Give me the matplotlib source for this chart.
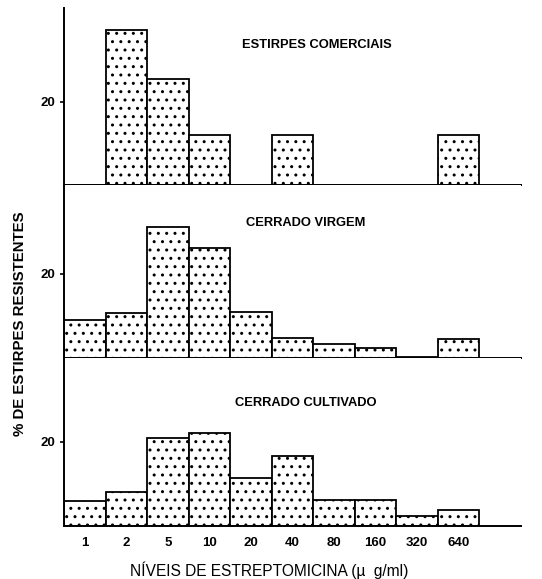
import numpy as np
import matplotlib
matplotlib.use("Agg")
import matplotlib.pyplot as plt

# streptomycin levels (ug/ml) - one bin per level
levels = ["1", "2", "5", "10", "20", "40", "80", "160", "320", "640"]

# % of resistant strains per level
comerciais = [0, 37.2, 25.5, 12.0, 0, 12.0, 0, 0, 0, 12.0]
cerrado_virgem = [8.9, 10.7, 31.0, 26.0, 10.9, 4.8, 3.2, 2.4, 0.3, 4.6]
cerrado_cultivado = [6.0, 8.0, 21.0, 22.2, 11.5, 16.7, 6.1, 6.1, 2.5, 3.7]

panel_titles = ["ESTIRPES COMERCIAIS", "CERRADO VIRGEM", "CERRADO CULTIVADO"]
panel_data = [comerciais, cerrado_virgem, cerrado_cultivado]

plt.rcParams["font.family"] = ["Liberation Sans", "DejaVu Sans"]
plt.rcParams["hatch.linewidth"] = 1.0
plt.rcParams["hatch.color"] = "black"

W, H = 542, 579
fig = plt.figure(figsize=(W / 100, H / 100), dpi=100)

# panel boxes in pixel rows (top, bottom), y-limits and title positions
rows = [(8, 185), (185, 358), (358, 526)]
ytops = [42.6, 41.0, 40.0]
title_pos = [(317, 45), (306, 223), (306, 403)]
left_px, width_px = 64, 456.5

axes = []
for (top, bot), ymax, vals, title, (tx, ty) in zip(rows, ytops, panel_data,
                                                   panel_titles, title_pos):
    ax = fig.add_axes([left_px / W, 1 - bot / H, width_px / W, (bot - top) / H])
    x = np.arange(len(vals))
    ax.bar(x, vals, width=1.0, align="edge", facecolor="white",
           edgecolor="black", linewidth=1.3, hatch="..")
    ax.set_xlim(0, 11)
    ax.set_ylim(0, ymax)
    for s in ["top", "right"]:
        ax.spines[s].set_visible(False)
    ax.spines["left"].set_linewidth(1.4)
    ax.spines["bottom"].set_linewidth(1.4)
    ax.set_yticks([20])
    ax.set_yticklabels(["20"], fontweight="bold", fontsize=9.5)
    ax.tick_params(axis="y", length=3, width=1.2, pad=3)
    ax.set_xticks([])
    fig.text(tx / W, 1 - ty / H, title, ha="center", va="center",
             fontsize=9.3, fontweight="bold")
    axes.append(ax)

# x tick labels on the bottom panel only
axes[-1].set_xticks(np.arange(len(levels)) + 0.5)
axes[-1].set_xticklabels(levels, fontweight="bold", fontsize=9.5)
axes[-1].tick_params(axis="x", length=0, pad=8)

fig.text(269 / W, 1 - 570 / H, "NÍVEIS DE ESTREPTOMICINA (µ  g/ml)",
         ha="center", va="center", fontsize=11.2)
fig.text(20 / W, 1 - 324 / H, "% DE ESTIRPES RESISTENTES", rotation=90,
         ha="center", va="center", fontsize=10.8, fontweight="bold")

fig.savefig("out.png", dpi=100, facecolor="white")
